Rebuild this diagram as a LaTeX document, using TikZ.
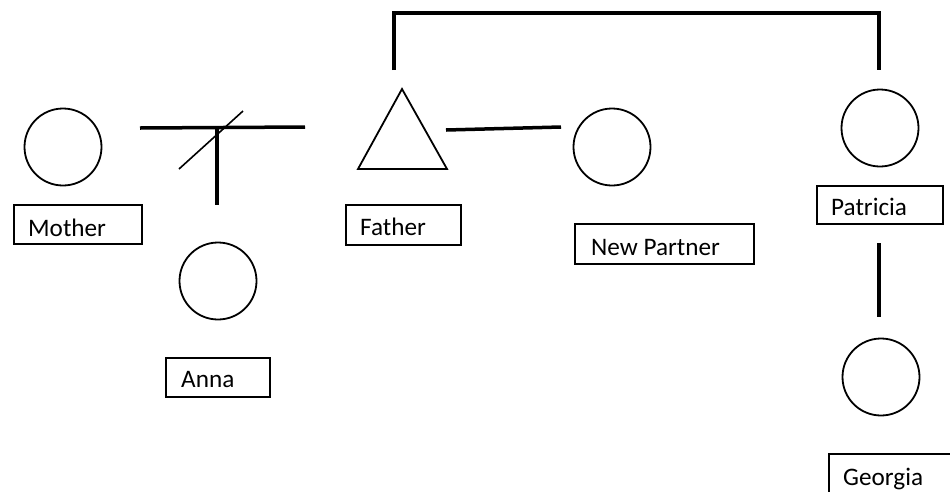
\documentclass[tikz,border=0pt]{standalone}
\usepackage{fontspec}
\setmainfont{Carlito}
\begin{document}
\begin{tikzpicture}[x=1pt,y=-1pt,
  person/.style={circle,draw,line width=1.8pt,minimum size=77pt,inner sep=0pt},
  lblbox/.style={draw,line width=1.8pt,anchor=north west,inner sep=0pt},
  lbltext/.style={anchor=base west,inner sep=0pt,font=\fontsize{25.2}{27}\selectfont},
  rel/.style={line width=3.5pt},
  thin/.style={line width=1.6pt}]
\useasboundingbox (0,0) rectangle (950,491);
% people
\node[person] (mother) at (63,147) {};
\node[person] (anna) at (218,281) {};
\node[person] (partner) at (612,147) {};
\node[person] (patricia) at (880,128) {};
\node[person] (georgia) at (881,377) {};
\coordinate (fa) at (402,89);
\coordinate (fb) at (358,169);
\coordinate (fc) at (447,169);
\draw[line width=1.8pt,line join=miter] (fa) -- (fb) -- (fc) -- cycle;
\node[inner sep=0pt,minimum width=89pt,minimum height=80pt] (father) at (402,129) {};
% label boxes
\node[lblbox,minimum width=128pt,minimum height=39pt] (mbox) at (13,204) {};
\node[lbltext] (mtext) at (28,236) {Mother};
\node[lblbox,minimum width=104pt,minimum height=39pt] (abox) at (165,357) {};
\node[lbltext] (atext) at (181,387) {Anna};
\node[lblbox,minimum width=115pt,minimum height=40pt] (fbox) at (345,204) {};
\node[lbltext] (ftext) at (360,235) {Father};
\node[lblbox,minimum width=179pt,minimum height=40pt] (pbox) at (574,223) {};
\node[lbltext] (ptext) at (591,255) {New Partner};
\node[lblbox,minimum width=126pt,minimum height=38pt] (patbox) at (816,185) {};
\node[lbltext] (pattext) at (831,215) {Patricia};
\node[lblbox,minimum width=140pt,minimum height=60pt] (gbox) at (828,453) {};
\node[lbltext] (gtext) at (843,485) {Georgia};
% connectors
\coordinate (m1) at (140,128);
\coordinate (m2) at (305,127);
\coordinate (mj) at (217,128);
\coordinate (mc) at (217,205);
\draw[rel] (m1) -- (m2);
\draw[rel] (mj) -- (mc);
\coordinate (d1) at (179,169);
\coordinate (d2) at (243,111);
\draw[thin] (d1) -- (d2);
\coordinate (n1) at (446,130);
\coordinate (n2) at (561,127);
\draw[rel] (n1) -- (n2);
\coordinate (t1) at (394,70);
\coordinate (t2) at (879,70);
\draw[rel,line join=miter] (t1) -- (394,13) -- (879,13) -- (t2);
\coordinate (g1) at (879,243);
\coordinate (g2) at (879,317);
\draw[rel] (g1) -- (g2);
\end{tikzpicture}
\end{document}
